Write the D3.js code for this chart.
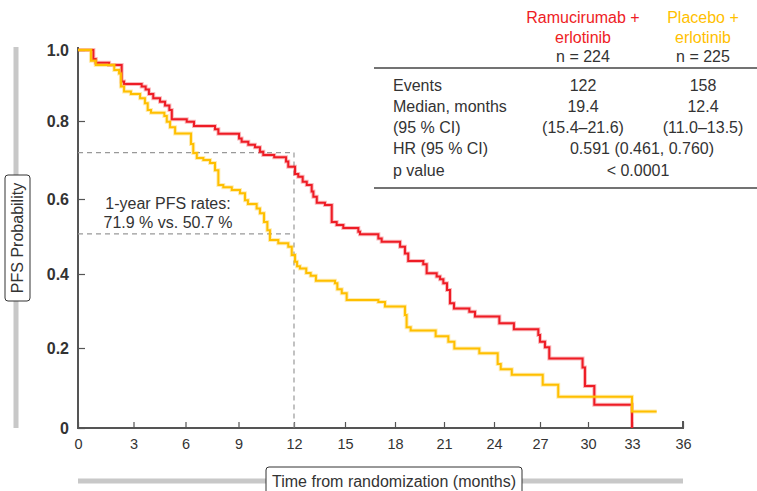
<!DOCTYPE html>
<html>
<head>
<meta charset="utf-8">
<script src="https://cdn.jsdelivr.net/npm/d3@7"></script>
<style>
  html, body { margin: 0; padding: 0; background: #fff; }
  svg { display: block; font-family: "Liberation Sans", Arial, Helvetica, sans-serif; }
</style>
</head>
<body>
<svg id="chart" width="757" height="491"></svg>
<script>
// Tick values and labels
const monthTicks = [0, 3, 6, 9, 12, 15, 18, 21, 24, 27, 30, 33, 36];
const probTicks = [0, 0.2, 0.4, 0.6, 0.8, 1.0];
const probLabels = ["0", "0.2", "0.4", "0.6", "0.8", "1.0"];

// Kaplan–Meier steps: [month, PFS probability after the event]
const ramucirumabSteps = [
  [0, 1.0], [0.83, 0.975], [0.96, 0.964], [1.68, 0.958], [2.36, 0.911], [2.49, 0.904],
  [3.47, 0.897], [3.70, 0.889], [3.89, 0.876], [4.14, 0.864], [4.53, 0.854], [4.82, 0.844],
  [5.07, 0.831], [5.21, 0.805], [6.07, 0.798], [6.48, 0.787], [7.67, 0.779], [7.86, 0.767],
  [9.03, 0.755], [9.17, 0.747], [9.53, 0.739], [9.89, 0.733], [10.16, 0.721], [10.34, 0.713],
  [10.93, 0.707], [11.57, 0.696], [11.69, 0.683], [12.06, 0.664], [12.25, 0.657], [12.51, 0.644],
  [12.75, 0.636], [13.04, 0.619], [13.14, 0.606], [13.34, 0.590], [13.82, 0.584], [14.22, 0.539],
  [14.51, 0.531], [14.90, 0.523], [15.80, 0.513], [15.90, 0.506], [17.00, 0.495], [17.20, 0.486],
  [18.31, 0.473], [18.61, 0.455], [18.81, 0.435], [19.73, 0.426], [19.94, 0.402], [20.55, 0.393],
  [20.76, 0.386], [20.96, 0.375], [21.18, 0.357], [21.36, 0.321], [21.60, 0.307], [22.52, 0.298],
  [22.86, 0.285], [24.35, 0.267], [25.30, 0.251], [26.89, 0.235], [27.00, 0.217], [27.31, 0.202],
  [27.58, 0.174], [29.66, 0.151], [29.81, 0.105], [30.43, 0.058], [33.00, 0.0]
];
const placeboSteps = [
  [0, 1.0], [0.70, 0.970], [0.96, 0.958], [1.96, 0.944], [2.22, 0.934], [2.32, 0.897],
  [2.49, 0.883], [2.86, 0.876], [3.38, 0.864], [3.66, 0.850], [3.82, 0.831], [4.01, 0.823],
  [4.78, 0.814], [4.92, 0.798], [5.11, 0.784], [5.40, 0.768], [6.31, 0.741], [6.44, 0.718],
  [6.64, 0.705], [7.01, 0.700], [7.39, 0.692], [7.67, 0.674], [7.86, 0.636], [8.14, 0.630],
  [8.62, 0.623], [9.08, 0.615], [9.35, 0.597], [9.51, 0.587], [9.98, 0.575], [10.16, 0.562],
  [10.38, 0.539], [10.56, 0.517], [10.70, 0.491], [11.15, 0.482], [11.69, 0.473], [11.88, 0.451],
  [12.06, 0.433], [12.18, 0.421], [12.35, 0.415], [12.72, 0.403], [12.98, 0.395], [13.29, 0.382],
  [14.41, 0.375], [14.55, 0.359], [14.81, 0.348], [15.10, 0.330], [17.00, 0.324], [17.40, 0.312],
  [18.61, 0.289], [18.71, 0.256], [18.96, 0.247], [20.49, 0.232], [21.26, 0.217], [21.62, 0.199],
  [23.12, 0.187], [24.24, 0.160], [24.44, 0.147], [25.16, 0.133], [27.17, 0.108], [28.14, 0.078],
  [33.00, 0.041], [34.45, 0.041]
];

// 1-year landmark rates
const landmarkMonth = 12;
const landmarkRates = [0.719, 0.507];

// Summary table
const armNames = [["Ramucirumab +", "erlotinib"], ["Placebo +", "erlotinib"]];
const armN = ["n = 224", "n = 225"];
const rowLabels = ["Events", "Median, months", "(95 % CI)", "HR (95 % CI)", "p value"];
const armValues = [["122", "158"], ["19.4", "12.4"], ["(15.4–21.6)", "(11.0–13.5)"]];
const hrText = "0.591 (0.461, 0.760)";
const pText = "< 0.0001";

const RED = "#ee1c25";
const YELLOW = "#ffbf00";
const AXIS = "#555";
const TEXT = "#333";
const FS = 16;

const svg = d3.select("#chart");

// The printed axis spacing is uneven, so both scales are piecewise linear.
const x = d3.scaleLinear()
  .domain(monthTicks)
  .range([78, 133.5, 185.5, 238.5, 294, 345, 395, 444, 494, 540, 588, 632, 683]);
const y = d3.scaleLinear()
  .domain(probTicks)
  .range([428, 348, 274, 199, 121, 50]);

// Grey guide bars behind the axis titles
svg.append("line").attr("x1", 16).attr("x2", 16).attr("y1", 47).attr("y2", 428)
  .attr("stroke", "#c8c8c8").attr("stroke-width", 5);
svg.append("line").attr("x1", 78).attr("x2", 683).attr("y1", 481).attr("y2", 481)
  .attr("stroke", "#c8c8c8").attr("stroke-width", 5);

// Y axis title box
svg.append("rect").attr("x", 5).attr("y", 175).attr("width", 25).attr("height", 126)
  .attr("rx", 3).attr("fill", "#fff").attr("stroke", "#333").attr("stroke-width", 1);
svg.append("text").attr("transform", "translate(23,238) rotate(-90)")
  .attr("text-anchor", "middle").attr("font-size", FS).attr("fill", TEXT)
  .text("PFS Probability");

// X axis title box
svg.append("rect").attr("x", 266).attr("y", 467).attr("width", 256).attr("height", 30)
  .attr("rx", 3).attr("fill", "#fff").attr("stroke", "#333").attr("stroke-width", 1);
svg.append("text").attr("x", 394).attr("y", 487)
  .attr("text-anchor", "middle").attr("font-size", FS).attr("fill", TEXT)
  .text("Time from randomization (months)");

// Axes
const xAxis = d3.axisBottom(x).tickValues(monthTicks).tickSize(-6).tickPadding(11)
  .tickFormat(d3.format("d"));
const gx = svg.append("g").attr("transform", `translate(0,${y(0)})`).call(xAxis);
gx.select(".domain").attr("d", `M${x(0)},-7V0H${x(36)}V-7`).attr("stroke", AXIS).attr("stroke-width", 2);
gx.selectAll(".tick line").attr("stroke", AXIS).attr("stroke-width", 1.2);
gx.selectAll(".tick text").attr("font-size", 14.5).attr("fill", TEXT)
  .attr("font-family", "Liberation Sans, Arial, sans-serif");

const yAxis = d3.axisLeft(y).tickValues(probTicks).tickSize(-7).tickPadding(9)
  .tickFormat((d, i) => probLabels[i]);
const gy = svg.append("g").attr("transform", `translate(${x(0)},0)`).call(yAxis);
gy.select(".domain").attr("d", `M0,${y(1) - 3}V${y(0)}`).attr("stroke", AXIS).attr("stroke-width", 2);
gy.selectAll(".tick line").attr("stroke", AXIS).attr("stroke-width", 1.2);
gy.selectAll(".tick text").attr("font-size", FS).attr("font-weight", "bold").attr("fill", TEXT)
  .attr("font-family", "Liberation Sans, Arial, sans-serif");

// Landmark guides at one year
const dash = "5,4";
landmarkRates.forEach(r => {
  svg.append("line").attr("x1", x(0)).attr("x2", x(landmarkMonth))
    .attr("y1", y(r)).attr("y2", y(r))
    .attr("stroke", "#999").attr("stroke-width", 1.2).attr("stroke-dasharray", dash);
});
svg.append("line").attr("x1", x(landmarkMonth)).attr("x2", x(landmarkMonth))
  .attr("y1", y(d3.max(landmarkRates))).attr("y2", y(0))
  .attr("stroke", "#999").attr("stroke-width", 1.2).attr("stroke-dasharray", dash);

// Annotation
const ann = svg.append("text").attr("text-anchor", "middle").attr("font-size", FS).attr("fill", TEXT);
ann.append("tspan").attr("x", 168).attr("y", 209).text("1-year PFS rates:");
ann.append("tspan").attr("x", 168).attr("y", 228)
  .text(`${d3.format(".1f")(landmarkRates[0] * 100)} % vs. ${d3.format(".1f")(landmarkRates[1] * 100)} %`);

// Survival curves
const line = d3.line().x(d => x(d[0])).y(d => y(d[1])).curve(d3.curveStepAfter);
[[ramucirumabSteps, RED], [placeboSteps, YELLOW]].forEach(([steps, color]) => {
  svg.append("path").datum(steps).attr("d", line).attr("fill", "none")
    .attr("stroke", color).attr("stroke-opacity", 0.3).attr("stroke-width", 4);
  svg.append("path").datum(steps).attr("d", line).attr("fill", "none")
    .attr("stroke", color).attr("stroke-width", 2);
});

// Summary table
const colX = [583, 703];
const labelX = 393;
armNames.forEach((name, i) => {
  const color = i === 0 ? RED : YELLOW;
  name.forEach((t, j) => {
    svg.append("text").attr("x", colX[i]).attr("y", 23 + j * 19.5).attr("text-anchor", "middle")
      .attr("font-size", FS).attr("fill", color).text(t);
  });
  svg.append("text").attr("x", colX[i]).attr("y", 62).attr("text-anchor", "middle")
    .attr("font-size", FS).attr("fill", TEXT).text(armN[i]);
});
svg.append("line").attr("x1", 374).attr("x2", 757).attr("y1", 68).attr("y2", 68)
  .attr("stroke", "#444").attr("stroke-width", 1.3);
svg.append("line").attr("x1", 374).attr("x2", 757).attr("y1", 188).attr("y2", 188)
  .attr("stroke", "#444").attr("stroke-width", 1.3);

const rowY = [90.5, 111.5, 133, 154, 175.5];
rowLabels.forEach((lab, i) => {
  svg.append("text").attr("x", labelX).attr("y", rowY[i]).attr("font-size", FS)
    .attr("fill", TEXT).text(lab);
});
armValues.forEach((vals, i) => {
  vals.forEach((v, j) => {
    svg.append("text").attr("x", colX[j]).attr("y", rowY[i]).attr("text-anchor", "middle")
      .attr("font-size", FS).attr("fill", TEXT).text(v);
  });
});
svg.append("text").attr("x", 642).attr("y", rowY[3]).attr("text-anchor", "middle")
  .attr("font-size", FS).attr("fill", TEXT).text(hrText);
svg.append("text").attr("x", 638).attr("y", rowY[4]).attr("text-anchor", "middle")
  .attr("font-size", FS).attr("fill", TEXT).text(pText);
</script>
</body>
</html>
